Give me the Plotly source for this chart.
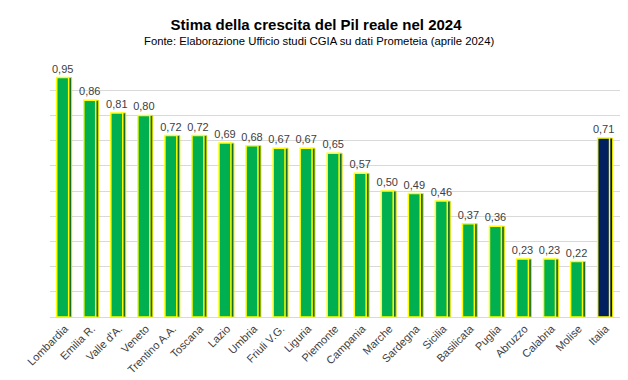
import plotly.graph_objects as go

regions = ["Lombardia", "Emilia R.", "Valle d'A.", "Veneto", "Trentino A.A.", "Toscana",
           "Lazio", "Umbria", "Friuli V.G.", "Liguria", "Piemonte", "Campania", "Marche",
           "Sardegna", "Sicilia", "Basilicata", "Puglia", "Abruzzo", "Calabria", "Molise", "Italia"]
growth = [0.95, 0.86, 0.81, 0.80, 0.72, 0.72, 0.69, 0.68, 0.67, 0.67, 0.65, 0.57, 0.50,
          0.49, 0.46, 0.37, 0.36, 0.23, 0.23, 0.22, 0.71]

front_colors = ["#00B050"] * (len(regions) - 1) + ["#002060"]
side_colors = ["#1A6B30"] * (len(regions) - 1) + ["#00133D"]
labels = [f"{v:.2f}".replace(".", ",") for v in growth]

fig = go.Figure()
# side face (3D effect)
fig.add_trace(go.Bar(
    x=regions, y=growth, width=0.17, offset=0.08,
    marker=dict(color=side_colors, line=dict(color="#E6E600", width=1)),
    hoverinfo="skip", showlegend=False,
))
# front face
fig.add_trace(go.Bar(
    x=regions, y=growth, width=0.44, offset=-0.30,
    marker=dict(color=front_colors, line=dict(color="#FFFF00", width=1.5)),
    text=labels, textposition="outside", cliponaxis=False, constraintext="none",
    textfont=dict(family="Liberation Sans, Arial", size=11, color="#404040"),
    showlegend=False,
))

fig.update_layout(
    width=628, height=380,
    barmode="overlay",
    plot_bgcolor="white", paper_bgcolor="white",
    margin=dict(l=42, r=14, t=57, b=67),
    title=dict(
        text="<b>Stima della crescita del Pil reale nel 2024</b>",
        xref="container", x=308 / 628, xanchor="center", y=1 - 17 / 380, yanchor="middle",
        font=dict(family="Liberation Sans, Arial", size=15, color="#000000"),
    ),
    annotations=[dict(
        text="Fonte: Elaborazione Ufficio studi CGIA su dati Prometeia (aprile 2024)",
        xref="paper", yref="paper", x=(311 - 42) / 572, xanchor="center",
        y=1 + (57 - 33) / 256, yanchor="middle", showarrow=False,
        font=dict(family="Liberation Sans, Arial", size=11.3, color="#000000"),
    )],
    font=dict(family="Liberation Sans, Arial", color="#404040"),
    xaxis=dict(
        tickangle=-45, tickfont=dict(size=11, color="#404040"),
        showline=True, linecolor="#D9D9D9", linewidth=1, ticks="",
        range=[-0.55, 20.6],
    ),
    yaxis=dict(
        range=[0, 1.0], dtick=0.1, showticklabels=False,
        showgrid=True, gridcolor="#D9D9D9", gridwidth=1, zeroline=False,
    ),
)

fig.write_html("out.html")
